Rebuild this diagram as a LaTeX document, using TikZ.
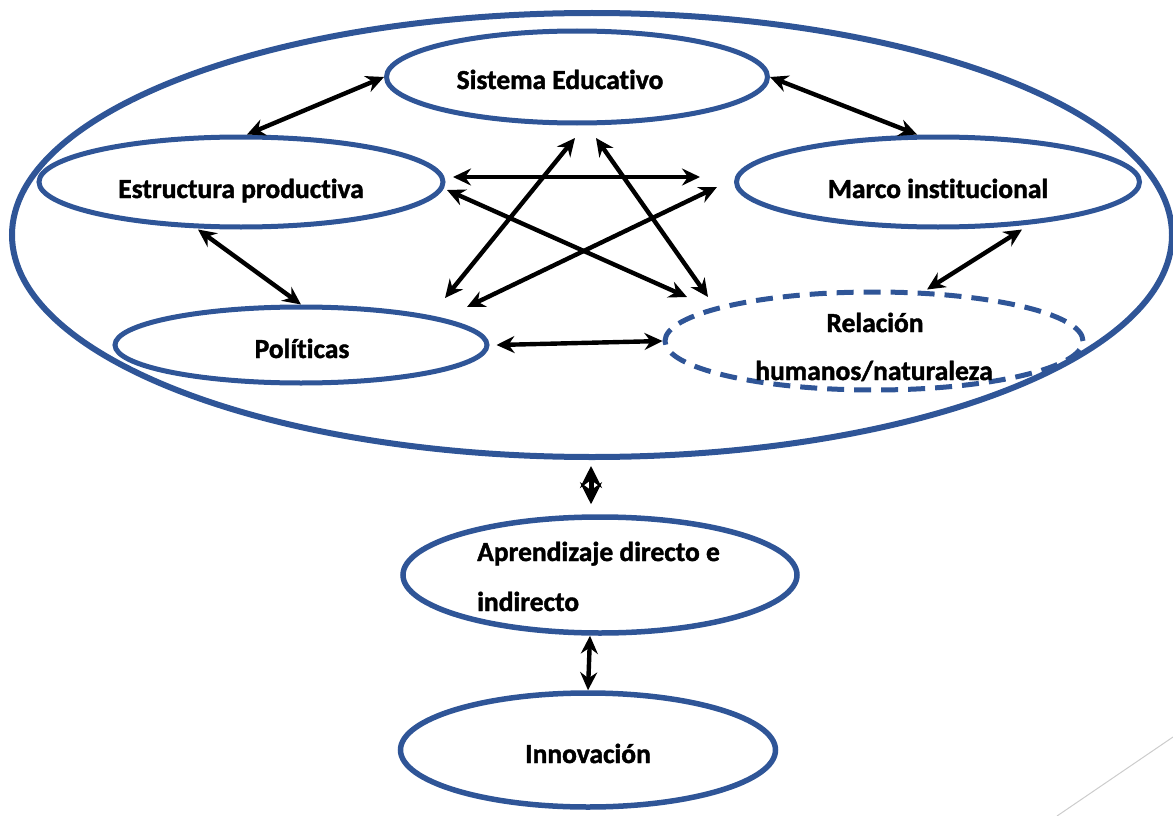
\documentclass[tikz,border=0pt]{standalone}
\usepackage{fontspec}
\setmainfont[Ligatures=CommonOff,BoldFeatures={FakeBold=1.5}]{Carlito}
\usetikzlibrary{shapes.geometric,arrows.meta}
\definecolor{eblue}{RGB}{47,85,151}
\tikzset{
  oval/.style={ellipse, draw=eblue, line width=5pt, inner sep=0pt},
  lbl/.style={font=\fontsize{27.5}{27.5}\selectfont\bfseries, inner sep=0pt, anchor=base},
  dbl/.style={line width=4.4pt, {Stealth[length=18pt,width=17pt,inset=6pt]}-{Stealth[length=18pt,width=17pt,inset=6pt]}},
  dblbig/.style={line width=5pt, {Stealth[length=22pt,width=22pt,inset=8pt]}-{Stealth[length=22pt,width=22pt,inset=8pt]}}
}
\begin{document}
\begin{tikzpicture}[x=1pt,y=-1pt]
\useasboundingbox (0,0) rectangle (1173,816);
% ellipses
\node[oval, line width=6pt, minimum width=1160pt, minimum height=444pt] (big) at (592,235) {};
\node[oval, minimum width=381pt, minimum height=92pt] (sis) at (577,77) {};
\node[oval, minimum width=404pt, minimum height=90pt] (est) at (241,182) {};
\node[oval, minimum width=403pt, minimum height=90pt] (mar) at (938,182) {};
\node[oval, minimum width=372pt, minimum height=76pt] (pol) at (301,345) {};
\node[oval, dashed, dash pattern=on 17pt off 10pt, minimum width=418pt, minimum height=98pt] (rel) at (874,341) {};
\node[oval, line width=5.5pt, minimum width=394pt, minimum height=116pt] (apr) at (600,575) {};
\node[oval, line width=5.5pt, minimum width=375pt, minimum height=114pt] (inn) at (588,750) {};
% labels
\node[lbl] (tsis) at (560,89) {Sistema Educativo};
\node[lbl] (test) at (241,198) {Estructura productiva};
\node[lbl] (tmar) at (938,198) {Marco institucional};
\node[lbl] (tpol) at (302,358) {Políticas};
\node[lbl] (trel1) at (875,332) {Relación};
\node[lbl] (trel2) at (874,380) {humanos/naturaleza};
\node[lbl, anchor=base west] (tapr1) at (477,561) {Aprendizaje directo e};
\node[lbl, anchor=base west] (tapr2) at (477,611) {indirecto};
\node[lbl] (tinn) at (588,763) {Innovación};
% star endpoints
\coordinate (h1) at (453,177);
\coordinate (h2) at (700,177);
\coordinate (d1) at (447,190);
\coordinate (d2) at (687,297);
\coordinate (s1) at (575,138);
\coordinate (s2) at (445,298);
\coordinate (r1) at (596,138);
\coordinate (r2) at (708,297);
\coordinate (m1) at (717,187);
\coordinate (m2) at (467,307);
% arrows
\draw[dbl] ([xshift=6pt]est.north) -- (sis.west);
\draw[dbl] (sis.east) -- ([xshift=-21pt]mar.north);
\draw[dbl] ([xshift=-43pt]est.south) -- (pol.north);
\draw[dbl] ([xshift=84pt]mar.south) -- ([xshift=53pt]rel.north);
\draw[dbl] ([xshift=7pt]pol.east) -- (rel.west);
\draw[dbl] (h1) -- (h2);
\draw[dbl] (d1) -- (d2);
\draw[dbl] (s1) -- (s2);
\draw[dbl] (r1) -- (r2);
\draw[dbl] (m1) -- (m2);
\draw[dblbig] ([xshift=-1pt,yshift=-6pt]big.south) -- ([xshift=-9pt,yshift=10pt]apr.north);
\draw[dbl] ([xshift=-10pt]apr.south) -- (inn.north);
% stray line
\draw[black!20, line width=1pt] (1057,816) -- (1173,737);
\end{tikzpicture}
\end{document}
